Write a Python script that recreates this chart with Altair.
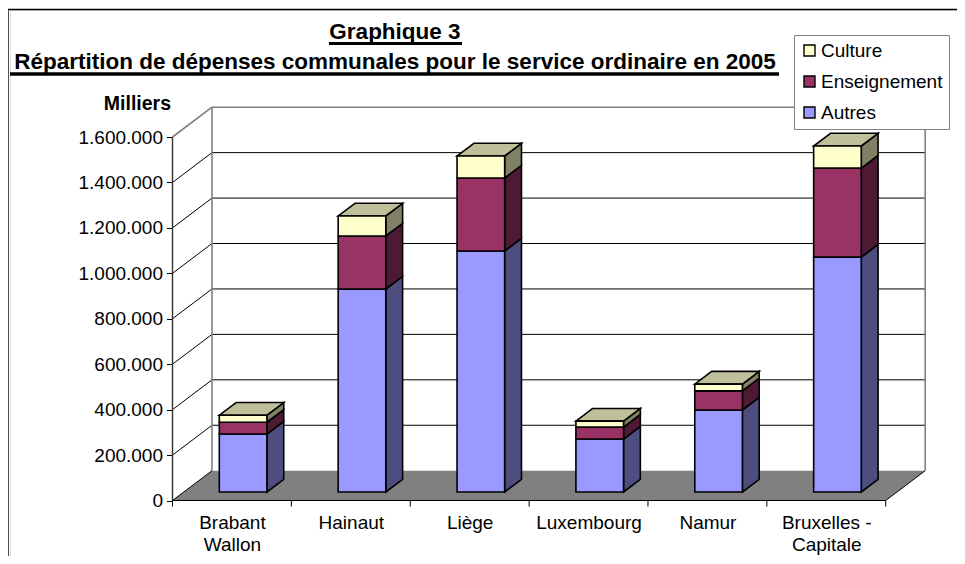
import json
import altair as alt
import pandas as pd

# ---- values ----------------------------------------------------------------
categories = ["Brabant Wallon", "Hainaut", "Liège", "Luxembourg", "Namur", "Bruxelles - Capitale"]
label_lines = [["Brabant", "Wallon"], ["Hainaut"], ["Liège"], ["Luxembourg"], ["Namur"], ["Bruxelles -", "Capitale"]]
autres = [255000, 893000, 1061000, 233000, 361000, 1034000]
enseignement = [52000, 234000, 321000, 53000, 84000, 392000]
culture = [31000, 88000, 97000, 26000, 30000, 97000]
y_ticks = [0, 200000, 400000, 600000, 800000, 1000000, 1200000, 1400000, 1600000]
series_names = ["Culture", "Enseignement", "Autres"]
title_lines = ["Graphique 3", "Répartition de dépenses communales pour le service ordinaire en 2005"]

front_col = {"Autres": "#9999FF", "Enseignement": "#993366", "Culture": "#FFFFCC"}
side_col = {"Autres": "#4D4D80", "Enseignement": "#4D1933", "Culture": "#808066"}
top_col = {"Autres": "#7373BF", "Enseignement": "#732650", "Culture": "#BFBF99"}

# ---- layout ----------------------------------------------------------------
OX, OY = 10, 10            # page position of the view
W, H = 947, 546
AX_X, AX_Y = 172.5, 500.5  # page position of the axis origin
STEP = 118.87              # px per category
PX_PER_V = 363.5 / 1600000
DEPTH_U = 39.5 / STEP      # oblique depth in category units
DEPTH_V = 29.8 / PX_PER_V  # oblique depth in value units
BAR_T0, BAR_T1 = 0.285, 0.711
BAR_L, BAR_W = 0.3937 - 0.285 * DEPTH_U, 0.4005

x_dom = [(OX - AX_X) / STEP, (OX + W - AX_X) / STEP]
y_dom = [(AX_Y - (OY + H)) / PX_PER_V, (AX_Y - OY) / PX_PER_V]
xs = alt.Scale(domain=x_dom, range=[0, W], nice=False, zero=False)
ys = alt.Scale(domain=y_dom, range=[H, 0], nice=False, zero=False)
FONT = "Liberation Sans"
n = len(categories)

# ---- axes ------------------------------------------------------------------
label_expr = json.dumps(label_lines, ensure_ascii=False) + "[round(datum.value - 0.5)]"
x_axis = alt.Axis(
    values=[i + 0.5 for i in range(n)], offset=-(OY + H - AX_Y), orient="bottom",
    domain=False, ticks=False, grid=False, title=None, labelExpr=label_expr,
    labelFont=FONT, labelFontSize=19, labelColor="#000000", labelPadding=13,
    labelLineHeight=22, labelOverlap=False, labelBound=False, labelFlush=False)
y_axis = alt.Axis(
    values=y_ticks, offset=-(AX_X - OX), orient="left",
    domain=False, ticks=True, tickSize=6, tickColor="#000000", grid=False,
    labelExpr="replace(format(datum.value, ','), /,/g, '.')",
    labelFont=FONT, labelFontSize=19, labelColor="#000000", labelPadding=4,
    labelOverlap=False, labelBound=False, labelFlush=False,
    title="Milliers", titleAngle=0, titleFont=FONT, titleFontSize=19.5, titleFontWeight="bold",
    titleColor="#000000", titleAlign="right", titleBaseline="alphabetic", titleX=-2, titleY=99)


def X(f="x", **k):
    return alt.X(f"{f}:Q", scale=xs, axis=x_axis, **k)


def Y(f="y", **k):
    return alt.Y(f"{f}:Q", scale=ys, axis=y_axis, **k)


# ---- bar faces -------------------------------------------------------------
fronts, sides, tops = [], [], []
for i, cat in enumerate(categories):
    base = 0
    stack = [("Autres", autres[i]), ("Enseignement", enseignement[i]), ("Culture", culture[i])]
    xl = i + BAR_L + BAR_T0 * DEPTH_U
    xr = xl + BAR_W
    dxs = (BAR_T1 - BAR_T0) * DEPTH_U
    dvs = (BAR_T1 - BAR_T0) * DEPTH_V
    off = BAR_T0 * DEPTH_V
    for name, val in stack:
        lo, hi = base + off, base + val + off
        fronts.append(dict(x=xl, x2=xr, y=lo, y2=hi, serie=name))
        pid = f"{i}-{name}"
        sides.append(dict(id=pid, x=xr, y=lo, y2=hi, c=side_col[name]))
        sides.append(dict(id=pid, x=xr + dxs, y=lo + dvs, y2=hi + dvs, c=side_col[name]))
        base += val
    top_name = stack[-1][0]
    tops.append(dict(id=i, y=hi, x=xl, x2=xr, c=top_col[top_name]))
    tops.append(dict(id=i, y=hi + dvs, x=xl + dxs, x2=xr + dxs, c=top_col[top_name]))

# ---- walls, floor, grid ----------------------------------------------------
floor = alt.Chart(pd.DataFrame([
    dict(y=0, x=0, x2=n), dict(y=DEPTH_V, x=DEPTH_U, x2=n + DEPTH_U)
])).mark_area(orient="horizontal", color="#808080").encode(
    x=X(), x2="x2:Q", y=Y())

inner = [v for v in y_ticks if 0 < v < y_ticks[-1]]
grid_rows = []
for v in inner:
    grid_rows.append(dict(x=0, x2=DEPTH_U, y=v, y2=v + DEPTH_V))
    grid_rows.append(dict(x=DEPTH_U, x2=n + DEPTH_U, y=v + DEPTH_V, y2=v + DEPTH_V))
grid_rows += [dict(x=0, x2=n, y=0, y2=0),
              dict(x=0, x2=DEPTH_U, y=0, y2=DEPTH_V),
              dict(x=n, x2=n + DEPTH_U, y=0, y2=DEPTH_V)]
grid = alt.Chart(pd.DataFrame(grid_rows)).mark_rule(color="#000000", strokeWidth=1).encode(
    x=X(), x2="x2:Q", y=Y(), y2="y2:Q")

vmax = y_ticks[-1]
wall_rows = [
    dict(x=0, x2=DEPTH_U, y=vmax, y2=vmax + DEPTH_V),
    dict(x=DEPTH_U, x2=n + DEPTH_U, y=vmax + DEPTH_V, y2=vmax + DEPTH_V),
    dict(x=DEPTH_U, x2=DEPTH_U, y=DEPTH_V, y2=vmax + DEPTH_V),
    dict(x=n + DEPTH_U, x2=n + DEPTH_U, y=DEPTH_V, y2=vmax + DEPTH_V),
]
walls = alt.Chart(pd.DataFrame(wall_rows)).mark_rule(color="#808080", strokeWidth=1.6).encode(
    x=X(), x2="x2:Q", y=Y(), y2="y2:Q")

y_line = alt.Chart(pd.DataFrame([dict(x=0, y=0, y2=vmax)])).mark_rule(color="#333333", strokeWidth=1.4).encode(
    x=X(), y=Y(), y2="y2:Q")

TICK_V = 6 / PX_PER_V
x_ticks = alt.Chart(pd.DataFrame([dict(x=i, y=0, y2=-TICK_V) for i in range(n + 1)])).mark_rule(
    color="#000000", strokeWidth=1).encode(x=X(), y=Y(), y2="y2:Q")

# ---- bars ------------------------------------------------------------------
side_layer = alt.Chart(pd.DataFrame(sides)).mark_area(
    stroke="#000000", strokeWidth=1.6, interpolate="linear").encode(
    x=X(), y=Y(), y2="y2:Q", detail="id:N", color=alt.Color("c:N", scale=None))

top_layer = alt.Chart(pd.DataFrame(tops)).mark_area(
    orient="horizontal", stroke="#000000", strokeWidth=1.6).encode(
    x=X(), x2="x2:Q", y=Y(), detail="id:N", color=alt.Color("c:N", scale=None))

front_layer = alt.Chart(pd.DataFrame(fronts)).mark_rect(stroke="#000000", strokeWidth=1.6).encode(
    x=X(), x2="x2:Q", y=Y(), y2="y2:Q",
    fill=alt.Fill("serie:N",
                  scale=alt.Scale(domain=series_names, range=[front_col[s] for s in series_names]),
                  sort=series_names,
                  legend=alt.Legend(
                      orient="none", legendX=794 - OX, legendY=35 - OY, title=None,
                      fillColor="#FFFFFF", strokeColor="#808080", padding=6,
                      symbolType="square", symbolSize=121, symbolStrokeColor="#000000",
                      symbolStrokeWidth=1.4, labelFont=FONT, labelFontSize=19,
                      labelColor="#000000", labelOffset=2, rowPadding=11)))

# ---- frame and underlines --------------------------------------------------
one = alt.Data(values=[{"a": 1}])


def hrule(p0, p1, py, sw, color="#000000"):
    return alt.Chart(one).mark_rule(color=color, strokeWidth=sw).encode(
        x=alt.value(p0 - OX), x2=alt.value(p1 - OX), y=alt.value(py - OY))


frame_top = hrule(8, OX + W, 9.5, 1.4)
frame_left = alt.Chart(one).mark_rule(color="#000000", strokeWidth=1.4).encode(
    x=alt.value(8 - OX), y=alt.value(9.5 - OY), y2=alt.value(H))
under1 = hrule(329, 462, 43.5, 3)
under2 = hrule(10, 779, 74, 3.6)

chart = alt.layer(
    floor, grid, walls, y_line, x_ticks,
    side_layer, top_layer, front_layer,
    frame_top, frame_left, under1, under2,
).properties(
    width=W, height=H,
    padding={"left": 2, "top": 2, "right": 0, "bottom": 0},
    autosize=alt.AutoSizeParams(type="none"),
    title=alt.TitleParams(
        text=title_lines, anchor="middle", dx=395 - (OX + W / 2), offset=-64.5,
        font=FONT, fontSize=22.5, fontWeight="bold", color="#000000", lineHeight=30),
).configure_view(stroke=None).configure(background="#FFFFFF")

chart.save("out.html", embed_options={"renderer": "svg", "actions": False})
